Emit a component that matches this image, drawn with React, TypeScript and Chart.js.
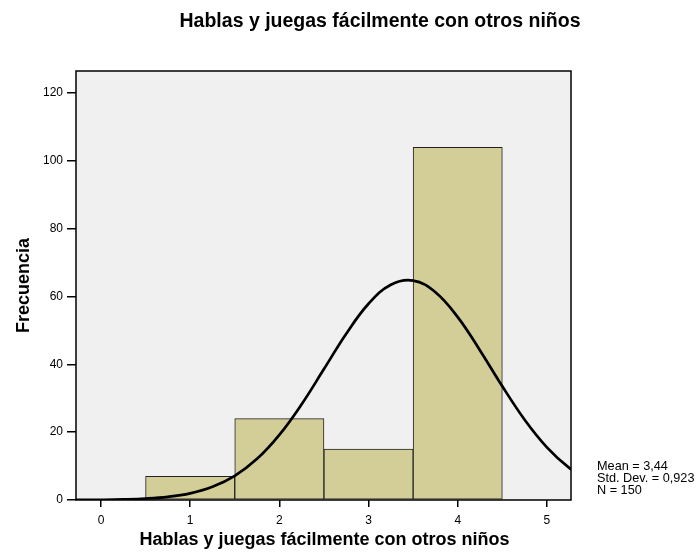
import React, { useEffect, useRef } from "react";
import { Chart, registerables } from "chart.js";

Chart.register(...registerables);

const TITLE = "Hablas y juegas fácilmente con otros niños";
const X_TITLE = "Hablas y juegas fácilmente con otros niños";
const Y_TITLE = "Frecuencia";
const STATS_LINES = ["Mean = 3,44", "Std. Dev. = 0,923", "N = 150"];

const BIN_CENTERS = [1, 2, 3, 4];
const FREQUENCIES = [7, 24, 15, 104];

const X_TICKS = [0, 1, 2, 3, 4, 5];
const Y_TICKS = [0, 20, 40, 60, 80, 100, 120];

// normal curve (Mean 3,44, SD 0,923, N 150)
const CURVE_X = [-0.5, -0.25, 0, 0.25, 0.5, 0.75, 1, 1.25, 1.5, 1.75, 2, 2.25, 2.5, 2.75, 3, 3.25, 3.5, 3.75, 4, 4.25, 4.5, 4.75, 5, 5.25, 5.5];
const CURVE_Y = [0.01, 0.02, 0.06, 0.17, 0.41, 0.93, 1.97, 3.88, 7.12, 12.13, 19.2, 28.24, 38.6, 49.03, 57.87, 63.47, 64.69, 61.28, 53.93, 44.11, 33.53, 23.68, 15.54, 9.48, 5.37];

const X_MIN = -0.28;
const X_MAX = 5.27;
const Y_MIN = 0;
const Y_MAX = 126.5;

const FONT = '"Liberation Sans", Arial, Helvetica, sans-serif';

export default function App() {
  const canvasRef = useRef<HTMLCanvasElement | null>(null);

  useEffect(() => {
    const canvas = canvasRef.current;
    if (!canvas) return;

    const decor = {
      id: "decor",
      beforeDraw(chart: any) {
        const { ctx, chartArea: a } = chart;
        ctx.save();
        ctx.fillStyle = "#ffffff";
        ctx.fillRect(0, 0, chart.width, chart.height);
        ctx.fillStyle = "#F0F0F0";
        ctx.fillRect(a.left, a.top, a.right - a.left, a.bottom - a.top);
        ctx.restore();
      },
      afterDatasetsDraw(chart: any) {
        const { ctx, chartArea: a } = chart;
        ctx.save();
        ctx.strokeStyle = "#000";
        ctx.lineWidth = 1.5;
        ctx.strokeRect(a.left, a.top, a.right - a.left, a.bottom - a.top);
        ctx.restore();
      },
      afterDraw(chart: any) {
        const { ctx, chartArea: a } = chart;
        ctx.save();
        ctx.fillStyle = "#000";
        ctx.textAlign = "center";
        ctx.textBaseline = "alphabetic";
        ctx.font = `bold 19.5px ${FONT}`;
        ctx.fillText(TITLE, 380, 27);
        ctx.font = `bold 18px ${FONT}`;
        ctx.fillText(X_TITLE, (a.left + a.right) / 2 + 1, 545);
        ctx.save();
        ctx.translate(29, (a.top + a.bottom) / 2);
        ctx.rotate(-Math.PI / 2);
        ctx.fillText(Y_TITLE, 0, 0);
        ctx.restore();
        ctx.textAlign = "left";
        ctx.font = `12.7px ${FONT}`;
        STATS_LINES.forEach((t, i) => ctx.fillText(t, 597, 469.5 + i * 12));
        ctx.restore();
      },
    };

    const chart = new Chart(canvas, {
      type: "bar",
      data: {
        datasets: [
          {
            type: "line",
            data: CURVE_X.map((x, i) => ({ x, y: CURVE_Y[i] })),
            borderColor: "#000",
            borderWidth: 2.7,
            pointRadius: 0,
            tension: 0.4,
            fill: false,
            order: 0,
          } as any,
          {
            type: "bar",
            data: BIN_CENTERS.map((x, i) => ({ x, y: FREQUENCIES[i] })),
            backgroundColor: "#D3CE98",
            borderColor: "#222",
            borderWidth: 1,
            borderSkipped: false,
            barPercentage: 1,
            categoryPercentage: 1,
            order: 1,
          } as any,
        ],
      },
      options: {
        animation: false,
        responsive: false,
        maintainAspectRatio: false,
        layout: { padding: { left: 0, right: 129, top: 71, bottom: 0 } },
        plugins: { legend: { display: false }, tooltip: { enabled: false }, title: { display: false } },
        scales: {
          x: {
            type: "linear",
            min: X_MIN,
            max: X_MAX,
            offset: false,
            grid: { display: true, drawOnChartArea: false, drawTicks: true, tickLength: 7, color: "#000", lineWidth: 1.5, offset: false },
            border: { display: false },
            ticks: { color: "#000", font: { family: FONT, size: 12 }, padding: 6, maxRotation: 0, autoSkip: false },
            afterBuildTicks: (scale: any) => {
              scale.ticks = X_TICKS.map((v) => ({ value: v }));
            },
            afterFit: (scale: any) => {
              scale.height = 60;
            },
          },
          y: {
            type: "linear",
            min: Y_MIN,
            max: Y_MAX,
            grid: { display: true, drawOnChartArea: false, drawTicks: true, tickLength: 9, color: "#000", lineWidth: 1.5 },
            border: { display: false },
            ticks: { color: "#000", font: { family: FONT, size: 12 }, padding: 4, autoSkip: false },
            afterBuildTicks: (scale: any) => {
              scale.ticks = Y_TICKS.map((v) => ({ value: v }));
            },
            afterFit: (scale: any) => {
              scale.width = 76;
            },
          },
        },
      } as any,
      plugins: [decor],
    });

    return () => chart.destroy();
  }, []);

  return (
    <div style={{ position: "fixed", left: 0, top: 0, width: 700, height: 560, background: "#fff" }}>
      <canvas ref={canvasRef} width={700} height={560} style={{ display: "block", width: 700, height: 560 }} />
    </div>
  );
}
